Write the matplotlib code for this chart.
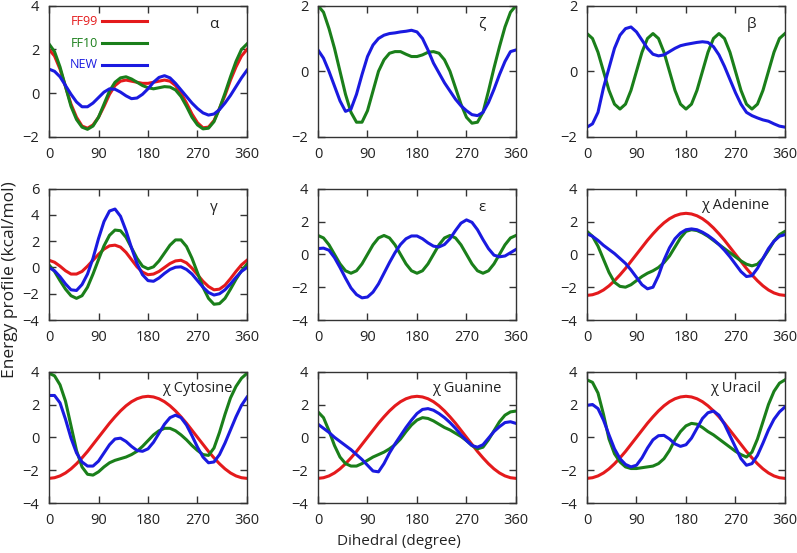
import numpy as np
import matplotlib
matplotlib.use("Agg")
import matplotlib.pyplot as plt

plt.rcParams['font.family'] = ['Open Sans', 'DejaVu Sans']

# dihedral grid, degrees (values read every 10 degrees)
angle = list(range(0, 361, 10))

alpha_ff99 = [2.0, 1.7, 1.1, 0.3, -0.5, -1.1, -1.5, -1.6, -1.45, -1.1, -0.6, -0.05, 0.35, 0.55, 0.6, 0.55, 0.5, 0.45,
              0.45, 0.5, 0.55, 0.6, 0.55, 0.35, 0.0, -0.45, -0.95, -1.35, -1.58, -1.55, -1.25, -0.7, -0.1, 0.6, 1.2, 1.7, 2.0]
alpha_ff10 = [2.25, 1.9, 1.2, 0.3, -0.6, -1.2, -1.55, -1.65, -1.5, -1.1, -0.5, 0.1, 0.5, 0.7, 0.75, 0.65, 0.5, 0.35,
              0.25, 0.2, 0.25, 0.3, 0.28, 0.15, -0.15, -0.6, -1.1, -1.45, -1.63, -1.6, -1.3, -0.7, 0.0, 0.75, 1.45, 2.0, 2.25]
alpha_new = [1.1, 1.0, 0.75, 0.35, -0.05, -0.4, -0.62, -0.62, -0.45, -0.2, 0.05, 0.2, 0.18, 0.05, -0.12, -0.25, -0.22, -0.05,
             0.2, 0.5, 0.72, 0.8, 0.7, 0.45, 0.15, -0.15, -0.45, -0.7, -0.9, -1.0, -0.95, -0.75, -0.45, -0.1, 0.3, 0.7, 1.05]

zeta_ff10 = [2.0, 1.8, 1.3, 0.7, 0.0, -0.7, -1.25, -1.55, -1.55, -1.2, -0.6, 0.0, 0.35, 0.55, 0.6, 0.6, 0.52, 0.45,
             0.45, 0.5, 0.58, 0.6, 0.55, 0.35, 0.0, -0.5, -1.0, -1.4, -1.58, -1.55, -1.25, -0.6, 0.1, 0.75, 1.35, 1.8, 2.0]
zeta_new = [0.65, 0.4, 0.0, -0.45, -0.9, -1.22, -1.15, -0.7, -0.1, 0.45, 0.8, 1.0, 1.1, 1.15, 1.17, 1.2, 1.22, 1.25,
            1.2, 1.0, 0.65, 0.25, -0.05, -0.35, -0.6, -0.85, -1.05, -1.2, -1.32, -1.35, -1.25, -0.95, -0.55, -0.1, 0.3, 0.6, 0.65]

beta_ff10 = [1.15, 1.0, 0.58, 0.0, -0.58, -1.0, -1.15, -1.0, -0.58, 0.0, 0.58, 1.0, 1.15, 1.0, 0.58, 0.0, -0.58, -1.0,
             -1.15, -1.0, -0.58, 0.0, 0.58, 1.0, 1.15, 1.0, 0.58, 0.0, -0.58, -1.0, -1.15, -1.0, -0.58, 0.0, 0.58, 1.0, 1.15]
beta_new = [-1.7, -1.6, -1.25, -0.5, 0.1, 0.7, 1.1, 1.3, 1.35, 1.2, 0.95, 0.7, 0.52, 0.47, 0.5, 0.6, 0.7, 0.78,
            0.82, 0.85, 0.88, 0.9, 0.88, 0.75, 0.5, 0.15, -0.25, -0.65, -1.0, -1.25, -1.35, -1.42, -1.48, -1.52, -1.6, -1.67, -1.7]

gamma_ff99 = [0.55, 0.4, 0.1, -0.25, -0.5, -0.5, -0.3, 0.1, 0.55, 1.0, 1.4, 1.65, 1.7, 1.55, 1.15, 0.6, 0.05, -0.35,
              -0.55, -0.5, -0.3, 0.0, 0.3, 0.5, 0.55, 0.35, -0.05, -0.55, -1.05, -1.45, -1.7, -1.65, -1.35, -0.85, -0.3, 0.2, 0.55]
gamma_ff10 = [0.2, -0.3, -1.0, -1.65, -2.15, -2.35, -2.15, -1.5, -0.5, 0.6, 1.65, 2.45, 2.85, 2.8, 2.3, 1.5, 0.7, 0.1,
              -0.1, 0.05, 0.5, 1.1, 1.7, 2.1, 2.1, 1.6, 0.7, -0.4, -1.5, -2.35, -2.8, -2.75, -2.35, -1.65, -0.9, -0.25, 0.25]
gamma_new = [0.0, -0.25, -0.7, -1.25, -1.7, -1.75, -1.3, -0.5, 0.7, 2.2, 3.5, 4.3, 4.45, 3.9, 2.8, 1.5, 0.3, -0.55,
             -1.0, -1.05, -0.8, -0.45, -0.15, 0.02, 0.05, -0.15, -0.5, -1.0, -1.5, -1.9, -2.1, -2.0, -1.7, -1.25, -0.75, -0.3, 0.0]

eps_ff10 = [1.15, 1.0, 0.58, 0.0, -0.58, -1.0, -1.15, -1.0, -0.58, 0.0, 0.58, 1.0, 1.15, 1.0, 0.58, 0.0, -0.58, -1.0,
            -1.15, -1.0, -0.58, 0.0, 0.58, 1.0, 1.15, 1.0, 0.58, 0.0, -0.58, -1.0, -1.15, -1.0, -0.58, 0.0, 0.58, 1.0, 1.15]
eps_new = [0.35, 0.38, 0.25, -0.2, -0.8, -1.45, -2.05, -2.45, -2.65, -2.6, -2.3, -1.8, -1.15, -0.5, 0.1, 0.6, 0.95, 1.12,
           1.12, 0.95, 0.7, 0.5, 0.45, 0.6, 0.95, 1.45, 1.9, 2.1, 1.95, 1.5, 0.9, 0.35, -0.05, -0.15, -0.1, 0.1, 0.3]

# FF99 chi profile is the same in all four base panels
chi_ff99 = [-2.5, -2.46, -2.35, -2.17, -1.92, -1.61, -1.25, -0.86, -0.43, 0.0, 0.43, 0.86, 1.25, 1.61, 1.92, 2.17, 2.35, 2.46,
            2.5, 2.46, 2.35, 2.17, 1.92, 1.61, 1.25, 0.86, 0.43, 0.0, -0.43, -0.86, -1.25, -1.61, -1.92, -2.17, -2.35, -2.46, -2.5]

ade_ff10 = [1.4, 1.1, 0.5, -0.3, -1.1, -1.7, -1.95, -2.0, -1.85, -1.6, -1.35, -1.15, -1.0, -0.8, -0.5, -0.1, 0.45, 1.0,
            1.4, 1.5, 1.45, 1.3, 1.1, 0.85, 0.6, 0.35, 0.1, -0.15, -0.4, -0.6, -0.7, -0.6, -0.25, 0.25, 0.8, 1.2, 1.4]
ade_new = [1.25, 1.1, 0.85, 0.55, 0.3, 0.05, -0.25, -0.55, -0.95, -1.4, -1.85, -2.1, -2.0, -1.3, -0.35, 0.4, 0.95, 1.3,
           1.5, 1.55, 1.5, 1.35, 1.15, 0.9, 0.6, 0.25, -0.15, -0.6, -1.05, -1.35, -1.3, -0.85, -0.25, 0.35, 0.8, 1.1, 1.2]

cyt_ff10 = [3.9, 3.75, 3.2, 2.2, 0.7, -0.8, -1.8, -2.25, -2.3, -2.1, -1.8, -1.55, -1.4, -1.3, -1.2, -1.05, -0.85, -0.55,
            -0.2, 0.15, 0.4, 0.55, 0.55, 0.4, 0.15, -0.15, -0.5, -0.8, -1.05, -1.1, -0.65, 0.3, 1.4, 2.4, 3.1, 3.6, 3.9]
cyt_new = [2.55, 2.55, 2.1, 1.1, -0.05, -0.95, -1.5, -1.75, -1.75, -1.45, -0.95, -0.45, -0.1, -0.05, -0.25, -0.55, -0.8, -0.85,
           -0.7, -0.3, 0.25, 0.8, 1.2, 1.35, 1.2, 0.75, 0.1, -0.6, -1.2, -1.55, -1.5, -1.05, -0.35, 0.45, 1.25, 1.95, 2.45]

gua_ff10 = [1.55, 1.2, 0.4, -0.5, -1.2, -1.6, -1.75, -1.75, -1.6, -1.4, -1.2, -1.05, -0.9, -0.7, -0.45, -0.1, 0.35, 0.75,
            1.05, 1.2, 1.15, 1.0, 0.8, 0.6, 0.45, 0.25, 0.05, -0.2, -0.5, -0.7, -0.6, -0.15, 0.4, 0.95, 1.35, 1.55, 1.6]
gua_new = [0.8, 0.55, 0.3, 0.0, -0.25, -0.5, -0.75, -1.05, -1.35, -1.7, -2.05, -2.1, -1.6, -0.95, -0.4, 0.1, 0.6, 1.05,
           1.45, 1.7, 1.75, 1.65, 1.45, 1.2, 0.9, 0.55, 0.15, -0.2, -0.5, -0.6, -0.45, -0.05, 0.35, 0.65, 0.9, 0.95, 0.85]

ura_ff10 = [3.5, 3.35, 2.7, 1.4, -0.1, -1.0, -1.5, -1.8, -1.9, -1.9, -1.85, -1.8, -1.75, -1.6, -1.3, -0.8, -0.15, 0.35,
            0.7, 0.85, 0.8, 0.6, 0.35, 0.15, -0.1, -0.35, -0.6, -0.85, -1.05, -1.2, -0.9, -0.1, 0.95, 2.0, 2.8, 3.3, 3.5]
ura_new = [1.95, 2.0, 1.75, 1.05, 0.15, -0.7, -1.3, -1.65, -1.8, -1.7, -1.25, -0.65, -0.15, 0.1, 0.12, -0.1, -0.4, -0.55,
           -0.45, -0.05, 0.55, 1.15, 1.5, 1.6, 1.35, 0.8, 0.1, -0.6, -1.3, -1.7, -1.6, -1.1, -0.35, 0.45, 1.1, 1.55, 1.85]

x_ticks = [0, 90, 180, 270, 360]

RED = '#e41a1c'
GREEN = '#1a7f1a'
BLUE = '#1a1ae0'

# (label, ylim, yticks, ff99, ff10, new)
panels = [
    ('α', (-2, 4), [-2, 0, 2, 4], alpha_ff99, alpha_ff10, alpha_new),
    ('ζ', (-2, 2), [-2, 0, 2], None, zeta_ff10, zeta_new),
    ('β', (-2, 2), [-2, 0, 2], None, beta_ff10, beta_new),
    ('γ', (-4, 6), [-4, -2, 0, 2, 4, 6], gamma_ff99, gamma_ff10, gamma_new),
    ('ε', (-4, 4), [-4, -2, 0, 2, 4], None, eps_ff10, eps_new),
    ('χ Adenine', (-4, 4), [-4, -2, 0, 2, 4], chi_ff99, ade_ff10, ade_new),
    ('χ Cytosine', (-4, 4), [-4, -2, 0, 2, 4], chi_ff99, cyt_ff10, cyt_new),
    ('χ Guanine', (-4, 4), [-4, -2, 0, 2, 4], chi_ff99, gua_ff10, gua_new),
    ('χ Uracil', (-4, 4), [-4, -2, 0, 2, 4], chi_ff99, ura_ff10, ura_new),
]

fig = plt.figure(figsize=(7.97, 5.53), dpi=100)

lefts = [0.0615, 0.399, 0.7365]
bottoms = [0.7523, 0.4213, 0.0904]
w, h = 0.2484, 0.2375

for i, (label, ylim, yticks, ff99, ff10, new) in enumerate(panels):
    ax = fig.add_axes([lefts[i % 3], bottoms[i // 3], w, h])
    if ff99 is not None:
        ax.plot(angle, ff99, color=RED, lw=2.2)
    ax.plot(angle, ff10, color=GREEN, lw=2.2)
    ax.plot(angle, new, color=BLUE, lw=2.2)
    ax.set_xlim(0, 360)
    ax.set_ylim(*ylim)
    ax.set_xticks(x_ticks)
    ax.set_yticks(yticks)
    ax.tick_params(direction='in', top=True, right=True, length=5, width=1,
                   labelsize=10.5, color='#333333', labelcolor='#222222', pad=7)
    for s in ax.spines.values():
        s.set_color('#333333')
        s.set_linewidth(1.0)
    if label.startswith('χ'):
        ax.text(0.75, 0.87, label, transform=ax.transAxes, ha='center', va='center', fontsize=10.5, color='#222222')
    else:
        ax.text(0.83, 0.86, label, transform=ax.transAxes, ha='center', va='center', fontsize=11, color='#222222')

    if i == 0:
        # legend drawn by hand inside the alpha panel
        for k, (name, col) in enumerate([('FF99', RED), ('FF10', GREEN), ('NEW', BLUE)]):
            yy = 0.88 - k * 0.165
            ax.text(0.245, yy, name, transform=ax.transAxes, ha='right', va='center', fontsize=9, color=col)
            ax.plot([0.27, 0.495], [yy, yy], transform=ax.transAxes, color=col, lw=2.2)

fig.text(0.012, 0.494, 'Energy profile (kcal/mol)', rotation=90, ha='center', va='center', fontsize=12.5, color='#222222')
fig.text(0.5, 0.02, 'Dihedral (degree)', ha='center', va='center', fontsize=11, color='#222222')

fig.savefig('out.png', dpi=100)
